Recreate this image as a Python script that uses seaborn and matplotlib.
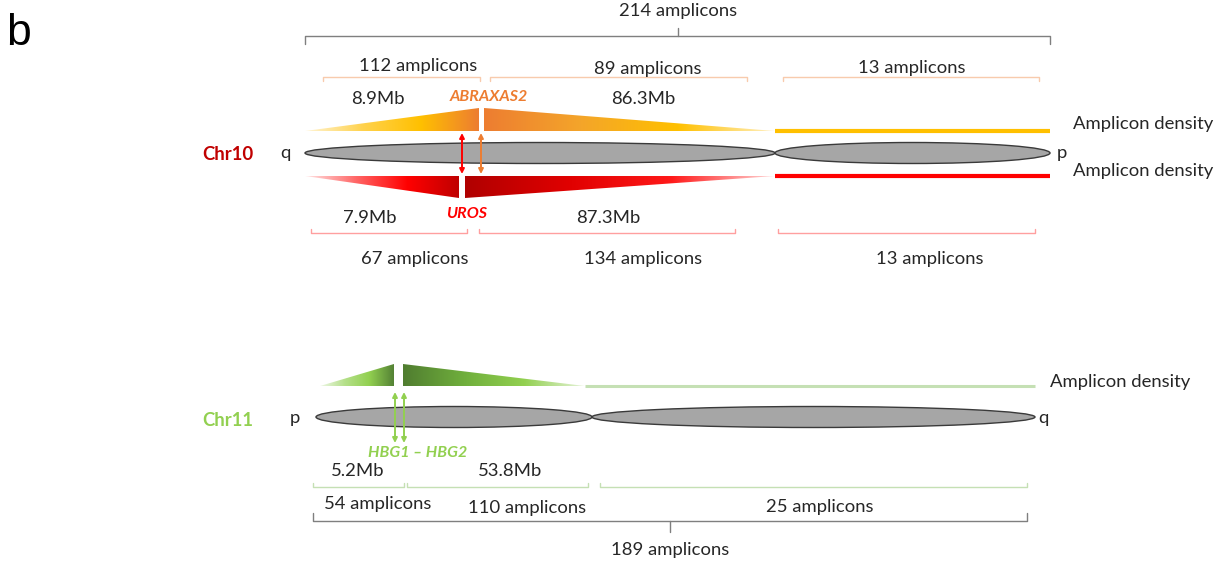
import numpy as np
import matplotlib
matplotlib.use("Agg")
import matplotlib.pyplot as plt
from matplotlib.patches import Ellipse, Polygon
from matplotlib.colors import LinearSegmentedColormap
import seaborn as sns

# ---- data -------------------------------------------------------------
chr10_genes = ["ABRAXAS2", "UROS"]
chr10_upper_mb = [8.9, 86.3]          # distances flanking ABRAXAS2
chr10_upper_amplicons = [112, 89, 13]
chr10_lower_mb = [7.9, 87.3]          # distances flanking UROS
chr10_lower_amplicons = [67, 134, 13]
chr11_gene = "HBG1 \u2013 HBG2"
chr11_mb = [5.2, 53.8]
chr11_amplicons = [54, 110, 25]

# ---- style ------------------------------------------------------------
sns.set_theme(style="white")
plt.rcParams["font.family"] = ["Lato", "DejaVu Sans"]
TXT = "#262626"
FS = 13.3
GFS = 11.5

fig = plt.figure(figsize=(12.15, 5.63), dpi=100)
ax = fig.add_axes([0, 0, 1, 1])
ax.set_xlim(0, 1215)
ax.set_ylim(563, 0)
ax.axis("off")


def gradient_triangle(pts, x0, x1, y0, y1, colors):
    """Fill a polygon with a horizontal colour gradient."""
    cmap = LinearSegmentedColormap.from_list("g", colors)
    grad = np.linspace(0, 1, 256).reshape(1, -1)
    poly = Polygon(pts, closed=True, facecolor="none", edgecolor="none")
    ax.add_patch(poly)
    im = ax.imshow(grad, cmap=cmap, extent=(x0, x1, y1, y0), aspect="auto",
                   interpolation="bicubic", zorder=2)
    im.set_clip_path(poly)


def bracket(x0, x1, y, tick, color, lw=1.0, mid=None, midtick=0):
    ax.plot([x0, x0, x1, x1], [y + tick, y, y, y + tick], color=color, lw=lw,
            solid_joinstyle="round", zorder=1)
    if mid is not None:
        ax.plot([mid, mid], [y, y + midtick], color=color, lw=lw, zorder=1)


def chromosome(xs, yc, h):
    for a, b in zip(xs[:-1], xs[1:]):
        ax.add_patch(Ellipse(((a + b) / 2, yc), b - a, h, facecolor="#a6a6a6",
                             edgecolor="#3a3a3a", lw=1.0, zorder=2))


def double_arrow(x, y0, y1, color):
    ax.annotate("", xy=(x, y1), xytext=(x, y0),
                arrowprops=dict(arrowstyle="<|-|>", color=color, lw=1.4,
                                mutation_scale=7, shrinkA=0, shrinkB=0), zorder=3)


def flat_density(x0, x1, y, color, lw):
    sns.lineplot(x=[x0, x1], y=[y, y], color=color, linewidth=lw, ax=ax,
                 zorder=2, solid_capstyle="butt")


def label(x, y, s, **kw):
    kw.setdefault("color", TXT)
    kw.setdefault("fontsize", FS)
    kw.setdefault("ha", "center")
    ax.text(x, y, s, va="center", **kw)


# ---- panel label -----------------------------------------------------
ax.text(6, 45, "b", fontsize=32, family="Liberation Sans", color="black",
        ha="left", va="baseline")

# ---- Chr10 ------------------------------------------------------------
c10 = [305, 775, 1050]
chromosome(c10, 153, 21)
label(228, 155, "Chr10", color="#c00000", fontweight="bold")
label(285, 153, "q")
label(1062, 153, "p")

# upper density (ABRAXAS2)
base, top = 131, 108
gl, gr = 479, 484
orange_l = ["#fff5d6", "#ffd24d", "#ffc000", "#ed7d31"]
orange_r = ["#ed7d31", "#f4a52a", "#ffc000", "#fff0c2"]
gradient_triangle([(c10[0], base), (gl, top), (gl, base)], c10[0], gl, top, base, orange_l)
gradient_triangle([(gr, top), (gr, base), (c10[1], base)], gr, c10[1], top, base, orange_r)
flat_density(c10[1], c10[2], base, "#ffc000", 3.0)

# lower density (UROS)
base2, bot = 176, 198
rl, rr = 459, 465
red_l = ["#ffe5e5", "#ff6666", "#ff0000", "#c00000"]
red_r = ["#b00000", "#e00000", "#ff1a1a", "#ffd6d6"]
gradient_triangle([(c10[0], base2), (rl, bot), (rl, base2)], c10[0], rl, base2, bot, red_l)
gradient_triangle([(rr, bot), (rr, base2), (c10[1], base2)], rr, c10[1], base2, bot, red_r)
flat_density(c10[1], c10[2], base2, "#ff0000", 3.0)

double_arrow(462, 133, 174, "#ff0000")
double_arrow(481, 133, 174, "#ed7d31")
label(489, 97, chr10_genes[0], color="#ed7d31", fontsize=GFS,
      fontweight="bold", fontstyle="italic")
label(467, 214, chr10_genes[1], color="#ff0000", fontsize=GFS,
      fontweight="bold", fontstyle="italic")

label(1073, 124, "Amplicon density", ha="left")
label(1073, 171, "Amplicon density", ha="left")

# Mb labels
label(378, 99, f"{chr10_upper_mb[0]}Mb")
label(643, 99, f"{chr10_upper_mb[1]}Mb")
label(370, 218, f"{chr10_lower_mb[0]}Mb")
label(608, 218, f"{chr10_lower_mb[1]}Mb")

# upper brackets
up_spans = [(323, 480), (490, 747), (783, 1039)]
up_text = [(418, 66), (648, 69), (912, 68)]
for (a, b), (tx, ty), n in zip(up_spans, up_text, chr10_upper_amplicons):
    bracket(a, b, 77, 4, "#f8cbad")
    label(tx, ty, f"{n} amplicons")

# lower brackets
lo_spans = [(311, 467), (479, 735), (778, 1035)]
lo_text = [(415, 259), (643, 259), (930, 259)]
for (a, b), (tx, ty), n in zip(lo_spans, lo_text, chr10_lower_amplicons):
    bracket(a, b, 233, -4, "#ff9f9f")
    label(tx, ty, f"{n} amplicons")

# total bracket
bracket(305, 1050, 36, 8, "#7f7f7f", mid=678, midtick=-8)
label(678, 11, f"{sum(chr10_upper_amplicons)} amplicons")

# ---- Chr11 ------------------------------------------------------------
c11 = [316, 592, 1035]
chromosome(c11, 417, 21)
label(228, 420, "Chr11", color="#92d050", fontweight="bold")
label(295, 418, "p")
label(1043, 418, "q")

gbase, gtop = 386, 364
g1, g2 = 394, 403
green_l = ["#eef7e6", "#b5e08a", "#92d050", "#548235"]
green_r = ["#507d30", "#6fae3c", "#92d050", "#e6f3d9"]
gradient_triangle([(320, gbase), (g1, gtop), (g1, gbase)], 320, g1, gtop, gbase, green_l)
gradient_triangle([(g2, gtop), (g2, gbase), (585, gbase)], g2, 585, gtop, gbase, green_r)
flat_density(585, 1035, gbase, "#c5e0b4", 2.2)

double_arrow(395, 392, 443, "#92d050")
double_arrow(404, 392, 443, "#92d050")
label(418, 453, chr11_gene, color="#92d050", fontsize=GFS,
      fontweight="bold", fontstyle="italic")
label(1050, 382, "Amplicon density", ha="left")

label(358, 471, f"{chr11_mb[0]}Mb")
label(510, 471, f"{chr11_mb[1]}Mb")

g_spans = [(313, 404), (407, 588), (600, 1027)]
g_text = [(378, 504), (527, 508), (820, 507)]
for (a, b), (tx, ty), n in zip(g_spans, g_text, chr11_amplicons):
    bracket(a, b, 487, -4, "#c5e0b4")
    label(tx, ty, f"{n} amplicons")

bracket(313, 1027, 521, -8, "#7f7f7f", mid=670, midtick=11)
label(670, 550, f"{sum(chr11_amplicons)} amplicons")

ax.set_xlim(0, 1215)
ax.set_ylim(563, 0)
fig.savefig("out.png", dpi=100, facecolor="white")
